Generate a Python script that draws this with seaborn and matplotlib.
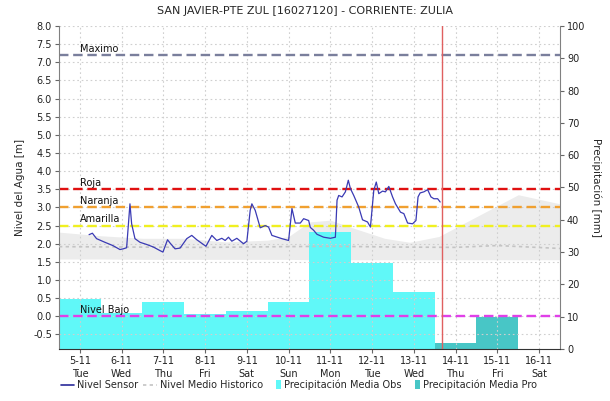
import numpy as np
import pandas as pd
import matplotlib
matplotlib.use("Agg")
import matplotlib.pyplot as plt
import seaborn as sns
from matplotlib.lines import Line2D
from matplotlib.patches import Patch, Rectangle
from matplotlib.legend_handler import HandlerPatch

# --- datos -------------------------------------------------------------
titulo = "SAN JAVIER-PTE ZUL [16027120] - CORRIENTE: ZULIA"

dias = list(range(5, 17))
etiquetas_dia = ["5-11\nTue", "6-11\nWed", "7-11\nThu", "8-11\nFri", "9-11\nSat",
                 "10-11\nSun", "11-11\nMon", "12-11\nTue", "13-11\nWed",
                 "14-11\nThu", "15-11\nFri", "16-11\nSat"]

# precipitación media observada y pronosticada [mm] por día
dias_obs = [5, 6, 7, 8, 9, 10, 11, 12, 13]
precip_obs = [15.5, 11.0, 14.6, 10.7, 11.9, 14.6, 36.3, 26.5, 17.7]
dias_pro = [14, 15]
precip_pro = [2.0, 9.8]

# nivel del sensor [m] (tiempo en días del mes)
sensor_t = [5.22, 5.30, 5.40, 5.60, 5.79, 5.96, 6.04, 6.12, 6.20, 6.24, 6.32, 6.44,
            6.60, 6.76, 6.92, 6.99, 7.10, 7.16, 7.28, 7.40, 7.56, 7.68, 7.80, 8.02,
            8.16, 8.28, 8.40, 8.48, 8.56, 8.64, 8.76, 8.92, 9.00, 9.08, 9.12, 9.20,
            9.32, 9.44, 9.52, 9.60, 9.84, 10.00, 10.08, 10.16, 10.28, 10.36, 10.48,
            10.52, 10.60, 10.68, 10.84, 11.00, 11.12, 11.16, 11.20, 11.28, 11.36,
            11.43, 11.48, 11.56, 11.68, 11.77, 11.89, 11.96, 12.04, 12.10, 12.16,
            12.25, 12.32, 12.40, 12.49, 12.56, 12.68, 12.76, 12.85, 12.97, 13.05,
            13.10, 13.15, 13.24, 13.33, 13.41, 13.48, 13.57, 13.63]
sensor_nivel = [2.25, 2.29, 2.14, 2.04, 1.95, 1.84, 1.86, 1.89, 3.10, 2.55, 2.14, 2.04,
                1.98, 1.91, 1.81, 1.77, 2.11, 2.02, 1.86, 1.88, 2.14, 2.23, 2.11, 1.93,
                2.23, 2.09, 2.15, 2.09, 2.18, 2.07, 2.15, 2.00, 2.07, 2.92, 3.10, 2.92,
                2.44, 2.50, 2.46, 2.23, 2.14, 2.09, 2.97, 2.57, 2.57, 2.69, 2.64,
                2.45, 2.37, 2.26, 2.18, 2.15, 2.18, 3.20, 3.33, 3.29, 3.43,
                3.75, 3.52, 3.33, 3.01, 2.66, 2.60, 2.46, 3.47, 3.70, 3.38,
                3.45, 3.43, 3.58, 3.29, 3.10, 2.87, 2.83, 2.57, 2.55, 2.64,
                3.29, 3.40, 3.43, 3.49, 3.29, 3.24, 3.24, 3.15]

# nivel medio histórico y su rango [m]
hist_t = [4.5, 6.0, 8.0, 10.0, 11.0, 12.5, 14.0, 15.0, 16.5]
hist_nivel = [1.92, 1.91, 1.90, 1.92, 1.93, 1.91, 1.90, 1.95, 1.87]
banda_t = [4.5, 5.5, 6.5, 7.5, 8.5, 9.5, 10.0, 10.5, 11.0, 11.5, 12.3, 12.9, 13.6,
           15.5, 16.5]
banda_sup = [2.32, 2.22, 2.15, 2.15, 2.05, 2.10, 2.20, 2.60, 2.65, 2.45, 2.15, 2.04,
             2.20, 3.35, 3.10]
banda_inf = [1.58, 1.58, 1.57, 1.57, 1.57, 1.57, 1.57, 1.56, 1.56, 1.56, 1.56, 1.56,
             1.56, 1.56, 1.56]

# niveles de referencia [m]
umbral_nombres = ["Maximo", "Roja", "Naranja", "Amarilla", "Nivel Bajo"]
umbral_valores = [7.2, 3.5, 3.0, 2.5, 0.0]
umbral_colores = ["#7a7f9c", "#e01010", "#f0a030", "#f0f020", "#e040e8"]

hora_actual = 13.67


class HandlerNarrow(HandlerPatch):
    """Rectángulo angosto para las entradas de barras en la leyenda."""
    def create_artists(self, legend, orig_handle, xdescent, ydescent,
                       width, height, fontsize, trans):
        w = height * 0.75
        r = Rectangle((width - w - xdescent, -ydescent - height * 0.15), w,
                      height * 1.3, facecolor=orig_handle.get_facecolor(),
                      lw=0, transform=trans)
        return [r]


# --- figura ------------------------------------------------------------
sns.set_style("white")
plt.rcParams["font.family"] = ["DejaVu Sans"]
plt.rcParams["font.size"] = 7

fig = plt.figure(figsize=(6.10, 4.01), dpi=100)
ax1 = fig.add_axes([0.0967, 0.1297, 0.8213, 0.8055])
ax2 = ax1.twinx()
ax1.set_zorder(ax2.get_zorder() + 1)
ax1.patch.set_visible(False)
ax2.patch.set_visible(True)
ax2.patch.set_facecolor("white")

ax1.set_xlim(4.5, 16.5)
ax1.set_ylim(-0.9, 8.0)
ax2.set_ylim(0, 100)

# rango histórico (en metros) bajo las barras
ax2.fill_between(banda_t, banda_inf, banda_sup, color="#ececec", lw=0,
                 transform=ax1.transData, zorder=0)

# precipitación
ax2.bar(dias_obs, precip_obs, width=1.0, color="#60f8f8", lw=0, zorder=1)
ax2.bar(dias_pro, precip_pro, width=1.0, color="#48c6c6", lw=0, zorder=1)

# umbrales
for nombre, valor, color in zip(umbral_nombres, umbral_valores, umbral_colores):
    ax1.axhline(valor, color=color, lw=1.7, ls=(0, (4, 2)), zorder=2)
    ax1.text(5.0, valor + 0.04, nombre, fontsize=7, color="#111111",
             ha="left", va="bottom", zorder=3)

# nivel medio histórico y sensor
df_hist = pd.DataFrame({"t": hist_t, "nivel": hist_nivel})
sns.lineplot(data=df_hist, x="t", y="nivel", ax=ax1, color="#c4c4c4", lw=1.2,
             linestyle=(0, (2, 2)), zorder=3)
df_sensor = pd.DataFrame({"t": sensor_t, "nivel": sensor_nivel})
sns.lineplot(data=df_sensor, x="t", y="nivel", ax=ax1, color="#3a3ab4", lw=0.9,
             zorder=4)

ax1.axvline(hora_actual, color="#e06060", lw=1.0, zorder=5)

# ejes y rejilla
ax1.set_xticks(dias)
ax1.set_xticklabels(etiquetas_dia, fontsize=7, linespacing=1.4)
ax1.set_yticks(np.arange(-0.5, 8.01, 0.5))
ax1.set_yticklabels([f"{v:.1f}" for v in np.arange(-0.5, 8.01, 0.5)], fontsize=7)
ax2.set_yticks(np.arange(0, 101, 10))
ax2.set_yticklabels([str(v) for v in range(0, 101, 10)], fontsize=7)
ax1.grid(True, color="#cfcfcf", ls=(0, (1.5, 2.5)), lw=0.8)
ax2.grid(False)
ax1.tick_params(axis="both", length=3, width=0.8, color="#666666", pad=2,
                labelcolor="#222222", left=True, bottom=True)
ax2.tick_params(axis="y", length=3, width=0.8, color="#666666", pad=2,
                labelcolor="#222222", right=True)

ax1.set_xlabel("")
ax1.set_ylabel("Nivel del Agua [m]", fontsize=7.5, labelpad=6)
ax2.set_ylabel("Precipitación [mm]", fontsize=7.5, rotation=270, labelpad=12)

for s in ["top", "right"]:
    ax1.spines[s].set_visible(False)
ax1.spines["left"].set_color("#808080")
ax1.spines["bottom"].set_color("#333333")
ax1.spines["bottom"].set_linestyle((0, (1, 1)))
for s in ["top", "left", "bottom"]:
    ax2.spines[s].set_visible(False)
ax2.spines["right"].set_color("#808080")

fig.suptitle(titulo, fontsize=8, x=0.5, y=0.985, va="top")

handles = [Line2D([], [], color="#2a2a9a", lw=1.2),
           Line2D([], [], color="#c4c4c4", lw=1.2, ls=(0, (2, 2))),
           Patch(color="#60f8f8"), Patch(color="#48c6c6")]
labels = ["Nivel Sensor", "Nivel Medio Historico", "Precipitación Media Obs",
          "Precipitación Media Pro"]
fig.legend(handles, labels, loc="center", bbox_to_anchor=(0.49, 1 - 385 / 401),
           ncol=4, frameon=False, fontsize=7, handlelength=1.4,
           columnspacing=0.5, handletextpad=0.3,
           handler_map={Patch: HandlerNarrow()})

fig.savefig("out.png", dpi=100, facecolor="white")
